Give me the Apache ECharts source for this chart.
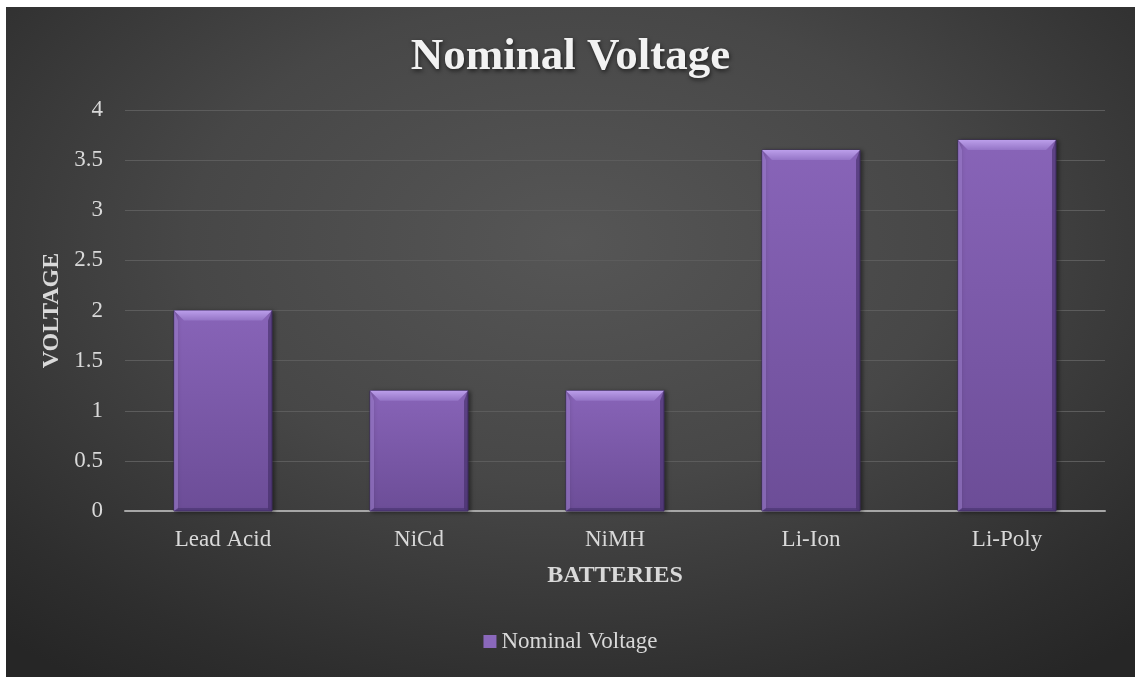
<!DOCTYPE html>
<html>
<head>
<meta charset="utf-8">
<script src="https://cdn.jsdelivr.net/npm/echarts@6/dist/echarts.min.js"></script>
<style>
html,body{margin:0;padding:0;background:#ffffff;width:1135px;height:677px;overflow:hidden;}
#wrap{position:absolute;left:6px;top:7px;width:1129px;height:670px;
background:radial-gradient(ellipse 75% 80% at 50% 35%, #565656 0%, #474747 45%, #2e2e2e 85%, #262626 100%);}
#chart{position:absolute;left:0;top:0;width:1129px;height:670px;}
</style>
</head>
<body>
<div id="wrap"><div id="chart"></div></div>
<script>
const categories = ['Lead Acid', 'NiCd', 'NiMH', 'Li-Ion', 'Li-Poly'];
const voltages = [2, 1.2, 1.2, 3.6, 3.7];
const seriesName = 'Nominal Voltage';

const chart = echarts.init(document.getElementById('chart'), null, {renderer: 'canvas'});
const serif = '"Liberation Serif", "Times New Roman", serif';

function renderBevelBar(params, api) {
  const x = api.value(0), y = api.value(1);
  const top = api.coord([x, y]);
  const base = api.coord([x, 0]);
  const band = api.size([1, 0])[0];
  const w = band * 0.5;
  const l = top[0] - w / 2, r = top[0] + w / 2;
  const t = top[1], b = base[1];
  const bv = Math.min(10, (b - t) / 3);
  const sv = 4;
  return {
    type: 'group',
    children: [
      {type: 'rect', shape: {x: l, y: t, width: w, height: b - t},
        style: {fill: new echarts.graphic.LinearGradient(0, 0, 0, 1, [
          {offset: 0, color: '#8864b8'}, {offset: 1, color: '#6c4d97'}]),
          stroke: '#3f2d60', lineWidth: 1,
          shadowBlur: 4, shadowColor: 'rgba(0,0,0,0.45)', shadowOffsetX: 2, shadowOffsetY: 1}},
      {type: 'polygon', shape: {points: [[l, t], [r, t], [r - bv, t + bv], [l + bv, t + bv]]},
        style: {fill: new echarts.graphic.LinearGradient(0, 0, 0, 1, [
          {offset: 0, color: '#bb9eea'}, {offset: 1, color: '#9474c6'}])}},
      {type: 'polygon', shape: {points: [[l, t], [l + sv, t + bv], [l + sv, b - 2], [l, b]]},
        style: {fill: 'rgba(160,130,210,0.55)'}},
      {type: 'polygon', shape: {points: [[r, t], [r - sv, t + bv], [r - sv, b - 2], [r, b]]},
        style: {fill: 'rgba(60,40,95,0.55)'}},
      {type: 'polygon', shape: {points: [[l, b], [l + sv, b - 3], [r - sv, b - 3], [r, b]]},
        style: {fill: 'rgba(70,50,110,0.6)'}}
    ]
  };
}

chart.setOption({
  backgroundColor: 'transparent',
  animation: false,
  title: {
    text: 'Nominal Voltage',
    left: 'center',
    top: 23,
    textStyle: {
      fontFamily: serif, fontWeight: 'bold', fontSize: 45, color: '#f2f2f2',
      textShadowColor: 'rgba(0,0,0,0.6)', textShadowBlur: 4, textShadowOffsetX: 1, textShadowOffsetY: 2
    }
  },
  grid: {left: 119, right: 30, top: 103, bottom: 166},
  legend: {
    bottom: 19,
    left: 'center',
    icon: 'rect',
    itemWidth: 13, itemHeight: 13,
    textStyle: {fontFamily: serif, fontSize: 23, color: '#d9d9d9'},
    data: [{name: seriesName, itemStyle: {color: '#8a68bb'}}]
  },
  xAxis: {
    type: 'category',
    data: categories,
    name: 'BATTERIES',
    nameLocation: 'middle',
    nameGap: 53,
    nameTextStyle: {fontFamily: serif, fontWeight: 'bold', fontSize: 24, color: '#d9d9d9'},
    axisLine: {lineStyle: {color: '#a6a6a6', width: 2}},
    axisTick: {show: false},
    axisLabel: {fontFamily: serif, fontSize: 23, color: '#d9d9d9', margin: 17}
  },
  yAxis: {
    type: 'value',
    min: 0, max: 4, interval: 0.5,
    name: 'VOLTAGE',
    nameLocation: 'middle',
    nameGap: 59,
    nameRotate: 90,
    nameTextStyle: {fontFamily: serif, fontWeight: 'bold', fontSize: 24, color: '#d9d9d9'},
    axisLine: {show: false},
    axisTick: {show: false},
    axisLabel: {fontFamily: serif, fontSize: 23, color: '#d9d9d9', margin: 22},
    splitLine: {lineStyle: {color: '#5c5c5c', width: 1}}
  },
  series: [{
    name: seriesName,
    type: 'custom',
    renderItem: renderBevelBar,
    encode: {x: 0, y: 1},
    data: voltages.map((v, i) => [i, v]),
    itemStyle: {color: '#8a68bb'},
    z: 3
  }]
});
</script>
</body>
</html>
